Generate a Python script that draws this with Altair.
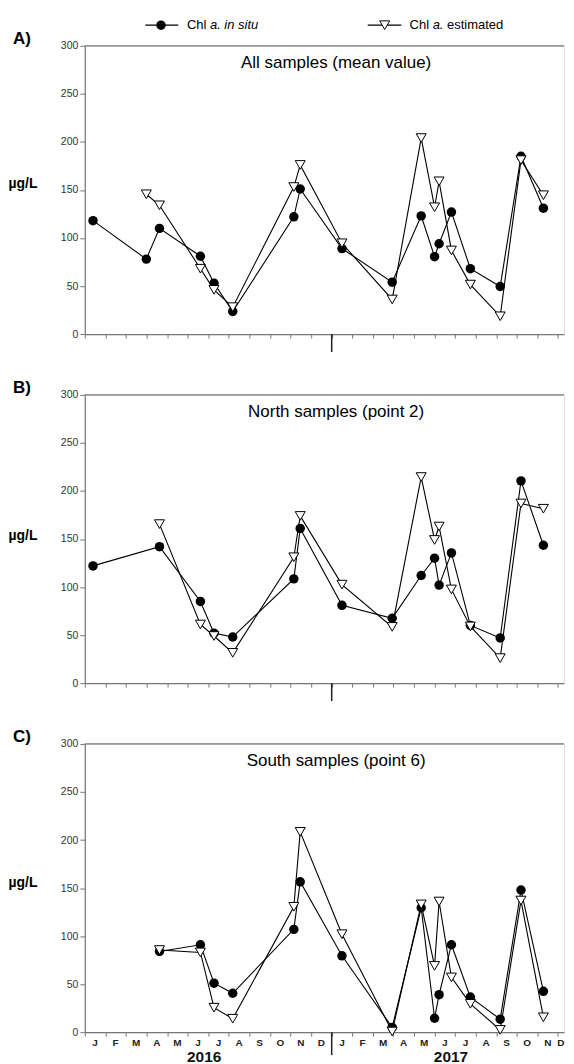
import altair as alt
import pandas as pd

# ---- data (time in months since 1 Jan 2016) ----
t_all = [0.40, 2.99, 3.63, 5.62, 6.28, 7.19, 10.16, 10.47, 12.50, 14.94,
         16.35, 17.00, 17.22, 17.82, 18.74, 20.19, 21.20, 22.29]
t_apr = [3.63, 5.62, 6.28, 7.19, 10.16, 10.47, 12.50, 14.94,
         16.35, 17.00, 17.22, 17.82, 18.74, 20.19, 21.20, 22.29]
t_b_insitu = [0.40] + t_apr

A_insitu = [118, 78, 110, 81, 53, 23.5, 122, 151, 89, 54, 123, 80.5, 94, 127, 68, 49.5, 185, 131]
A_est_t = t_all[1:]
A_est = [145.5, 134, 68, 46, 28, 153, 176, 94.5, 36, 204, 132, 159, 87, 51.5, 18.5, 181, 144.5]

B_insitu = [122, 142, 85, 52, 48, 108.5, 161, 81, 67.5, 112, 130, 102, 135.5, 60, 47, 210.5, 143.5]
B_est = [165.5, 61, 49, 31.5, 131, 174, 102.5, 58.5, 214.5, 149, 163, 97.5, 59, 26, 187, 181.5]

C_insitu = [84, 91, 51, 40.5, 107, 156.5, 79.5, 5, 129.5, 14.5, 39, 91, 36.5, 13.5, 148, 42.5]
C_est = [85.5, 83, 25.5, 14, 130.5, 208.5, 102, 0.7, 133, 69, 136, 57, 29.5, 2.4, 137, 15.5]

month_letters = ["J", "F", "M", "A", "M", "J", "J", "A", "S", "O", "N", "D"] * 2
month_centers = [i + 0.5 for i in range(24)]
year_labels = ["2016", "2017"]
year_pos = [5.8, 17.8]
y_ticks = [0, 50, 100, 150, 200, 250, 300]
month_ticks = list(range(24))

# ---- layout ----
PX_PER_MONTH = 20.63
W = 480.5
H = 289
XMAX = W / PX_PER_MONTH
FONT = "Liberation Sans"
AX = "#777777"

xscale = alt.Scale(domain=[0, XMAX], nice=False, zero=False)
yscale = alt.Scale(domain=[0, 300], nice=False)
xaxis = alt.Axis(values=month_ticks, tickSize=4, labels=False, title=None,
                 grid=False, domainColor=AX, tickColor=AX, domainWidth=1.2, tickWidth=1)
yaxis = alt.Axis(values=y_ticks, tickSize=5, labelPadding=2, labelFontSize=10.5,
                 labelFont=FONT, labelColor="#333333", title=None, grid=False,
                 domainColor=AX, tickColor=AX, domainWidth=1.2, tickWidth=1)
X = alt.X("m:Q", scale=xscale, axis=xaxis)
Y = alt.Y("v:Q", scale=yscale, axis=yaxis)


def txt(s, x, y, **kw):
    return alt.Chart(pd.DataFrame({"t": [s]})).mark_text(font=FONT, **kw).encode(
        x=alt.value(x), y=alt.value(y), text="t:N")


def panel(letter, title, t_in, v_in, t_est, v_est, bottom, legend, ug_y, sep_len):
    d_in = pd.DataFrame({"m": t_in, "v": v_in})
    d_est = pd.DataFrame({"m": t_est, "v": v_est})
    layers = []
    line_in = alt.Chart(d_in).mark_line(color="black", strokeWidth=1.1).encode(x=X, y=Y, order="m:Q")
    line_est = alt.Chart(d_est).mark_line(color="black", strokeWidth=1.1).encode(x=X, y=Y, order="m:Q")
    pt_in = alt.Chart(d_in).mark_point(shape="circle", filled=True, color="black", size=90, opacity=1).encode(x=X, y=Y)
    pt_est = alt.Chart(d_est).mark_point(shape="triangle-down", filled=True, fill="white", stroke="black",
                                         strokeWidth=1, size=100, opacity=1).encode(x=X, y=Y)
    layers += [line_in, line_est, pt_in, pt_est]
    top = alt.Chart(pd.DataFrame({"v": [300]})).mark_rule(color=AX, strokeWidth=1.2).encode(
        y=Y, x=alt.value(0), x2=alt.value(W))
    layers.append(top)
    sep = alt.Chart(pd.DataFrame({"m": [12]})).mark_rule(color="#222222", strokeWidth=1.5).encode(
        x=X, y=alt.value(H), y2=alt.value(H + sep_len))
    layers.append(sep)
    layers.append(txt(title, 252, 17, fontSize=17, align="center", baseline="middle"))
    layers.append(txt(letter, -72, -7, fontSize=17, fontWeight="bold", align="left", baseline="middle"))
    layers.append(txt("µg/L", -76.5, ug_y, fontSize=14, fontWeight="bold", align="left", baseline="middle"))
    if bottom:
        dm = pd.DataFrame({"m": month_centers[:-1], "lab": month_letters[:-1]})
        layers.append(alt.Chart(dm).mark_text(font=FONT, fontSize=10, fontWeight="bold", color="#222222",
                                               baseline="middle").encode(
            x=X, y=alt.value(H + 11), text="lab:N"))
        dlast = pd.DataFrame({"m": month_centers[-1:], "lab": month_letters[-1:]})
        layers.append(alt.Chart(dlast).mark_text(font=FONT, fontSize=10, fontWeight="bold", color="#222222",
                                                  baseline="middle", dx=-7.5).encode(
            x=X, y=alt.value(H + 11), text="lab:N"))
        dy = pd.DataFrame({"m": year_pos, "lab": year_labels})
        layers.append(alt.Chart(dy).mark_text(font=FONT, fontSize=15.5, fontWeight="bold", color="#111111",
                                               baseline="middle").encode(
            x=X, y=alt.value(H + 24.5), text="lab:N"))
    if legend:
        ly = -20.7
        one = pd.DataFrame({"a": [0]})
        layers.append(alt.Chart(one).mark_rule(color="black", strokeWidth=1.2).encode(
            x=alt.value(60.7), x2=alt.value(93.7), y=alt.value(ly)))
        layers.append(alt.Chart(one).mark_point(shape="circle", filled=True, color="black",
                                                size=90, opacity=1).encode(x=alt.value(76.4), y=alt.value(ly)))
        layers.append(alt.Chart(one).mark_rule(color="black", strokeWidth=1.2).encode(
            x=alt.value(283.7), x2=alt.value(317.4), y=alt.value(ly)))
        layers.append(alt.Chart(one).mark_point(shape="triangle-down", filled=True, fill="white",
                                                stroke="black", strokeWidth=1, size=100,
                                                opacity=1).encode(x=alt.value(300.7), y=alt.value(ly)))
        layers.append(txt("Chl", 102.4, ly, fontSize=13, align="left", baseline="middle"))
        layers.append(txt("a. in situ", 125.5, ly, fontSize=13, fontStyle="italic", align="left", baseline="middle"))
        layers.append(txt("Chl", 325.7, ly, fontSize=13, align="left", baseline="middle"))
        layers.append(txt("a.", 348.8, ly, fontSize=13, fontStyle="italic", align="left", baseline="middle"))
        layers.append(txt("estimated", 363.2, ly, fontSize=13, align="left", baseline="middle"))
    return alt.layer(*layers).properties(width=W, height=H)


pA = panel("A)", "All samples (mean value)", t_all, A_insitu, A_est_t, A_est, False, True, 139, 18)
pB = panel("B)", "North samples (point 2)", t_b_insitu, B_insitu, t_apr, B_est, False, False, 142, 18)
pC = panel("C)", "South samples (point 6)", t_apr, C_insitu, t_apr, C_est, True, False, 139, 23)

chart = alt.vconcat(pA, pB, pC, spacing=61, bounds="flush").properties(
    padding={"left": 0, "top": 8.5, "right": 0, "bottom": 0}
).configure_view(stroke=None).configure(font=FONT)

chart.save("out.html", embed_options={"renderer": "svg", "actions": False})
